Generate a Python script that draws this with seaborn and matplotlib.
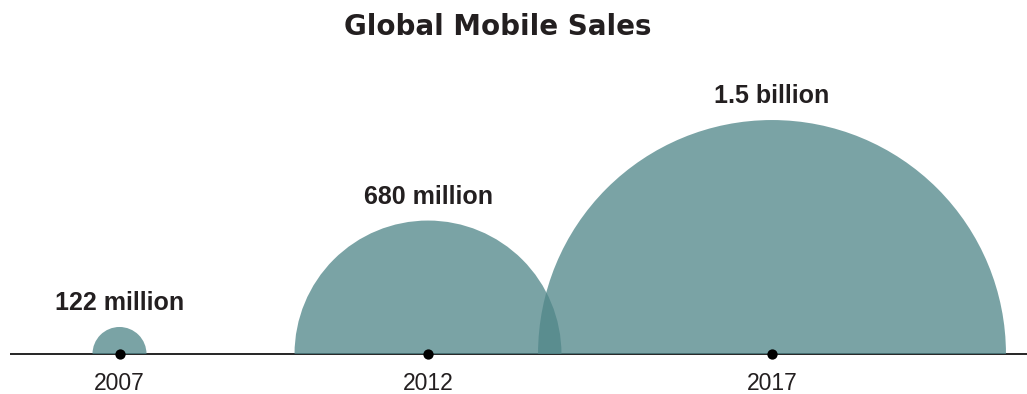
import numpy as np
import matplotlib
matplotlib.use("Agg")
import matplotlib.pyplot as plt
from matplotlib.patches import Wedge
import seaborn as sns

# Global mobile sales, in millions of units
years = ["2007", "2012", "2017"]
sales_millions = [122, 680, 1500]
value_labels = ["122 million", "680 million", "1.5 billion"]

sns.set_theme(style="white")
plt.rcParams["font.family"] = ["Liberation Sans", "DejaVu Sans"]

W, H, DPI = 1027, 394, 100
fig = plt.figure(figsize=(W / DPI, H / DPI), dpi=DPI)
ax = fig.add_axes([0, 0, 1, 1])
# one data unit = one pixel, baseline at y = 0
ax.set_xlim(0, W)
ax.set_ylim(-40, H - 40)
ax.set_axis_off()

# horizontal positions of the circle centres along the baseline
centres = [119.5, 428, 772]


def radius(v):
    """Map a sales figure (millions) to a semicircle radius in pixels."""
    return 3.305 * np.power(v, 0.6) - 32.0


fill = "#508689"
ink = "#231f20"

# baseline
ax.plot([10, W], [0, 0], color="black", lw=1.2, zorder=1, solid_capstyle="butt")

for cx, v, lab, yr in zip(centres, sales_millions, value_labels, years):
    r = radius(v)
    ax.add_patch(Wedge((cx, 0), r, 0, 180, facecolor=fill, edgecolor="none",
                       alpha=0.76, zorder=2))
    ax.text(cx, r + 17, lab, ha="center", va="baseline", fontsize=18,
            fontweight="bold", color=ink, zorder=4)
    ax.text(cx, -36.5, yr, ha="center", va="baseline", fontsize=16.5,
            color=ink, zorder=4)

sns.scatterplot(x=centres, y=[0] * len(centres), color="black", s=55,
                linewidth=0, zorder=5, ax=ax, legend=False)

fig.text(497.5 / W, 1 - 27 / H, "Global Mobile Sales", ha="center", va="center",
         fontsize=20, fontweight="bold", color=ink, family=["DejaVu Sans"])

fig.savefig("out.png", dpi=DPI)
